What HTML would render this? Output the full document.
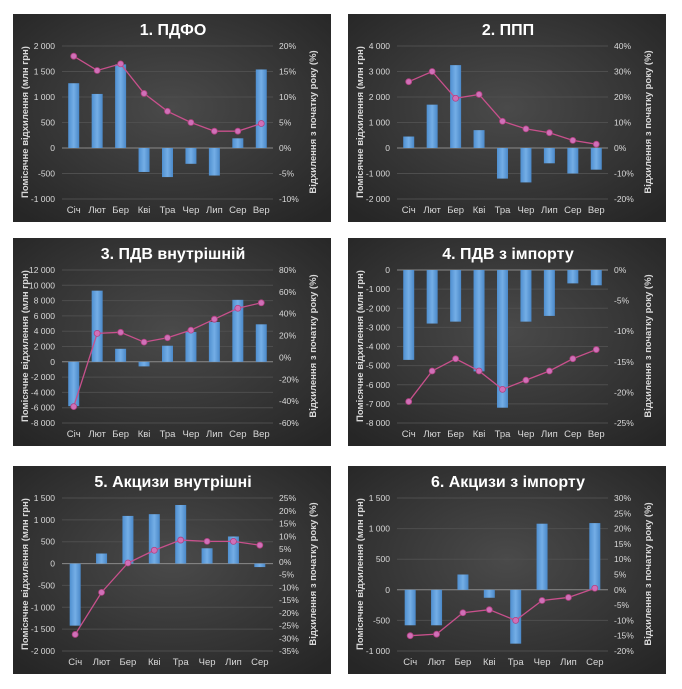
<!DOCTYPE html>
<html><head><meta charset="utf-8"><style>
html,body{margin:0;padding:0;background:#fff;width:682px;height:689px;overflow:hidden}
svg{display:block}
text{font-family:"Liberation Sans","DejaVu Sans",sans-serif;fill:#d9d9d9}
</style></head><body>
<svg id="s" width="682" height="689" xmlns="http://www.w3.org/2000/svg">
<defs>
<radialGradient id="bg" cx="50%" cy="45%" r="70%"><stop offset="0" stop-color="#4a4a4a"/><stop offset="1" stop-color="#262626"/></radialGradient>
<linearGradient id="bar" x1="0" x2="1"><stop offset="0" stop-color="#4f8fd0"/><stop offset="0.5" stop-color="#74aee6"/><stop offset="1" stop-color="#4a88c8"/></linearGradient>
</defs>
</svg>
<script>
var M=["Січ","Лют","Бер","Кві","Тра","Чер","Лип","Сер","Вер"];
var P=[
{x:13,y:14,t:"1. ПДФО",L:[-1000,2000,500],R:[-10,20,5],b:[1270,1060,1640,-470,-570,-310,-540,190,1540],l:[18,15.2,16.5,10.7,7.2,5,3.3,3.3,4.8]},
{x:348,y:14,t:"2. ППП",L:[-2000,4000,1000],R:[-20,40,10],b:[450,1700,3250,700,-1200,-1350,-600,-1000,-850],l:[26,30,19.5,21,10.5,7.5,6,3,1.5]},
{x:13,y:238,t:"3. ПДВ внутрішній",L:[-8000,12000,2000],R:[-60,80,20],b:[-5800,9300,1700,-600,2100,3900,5200,8100,4900],l:[-45,22,23,14,18,25,35,45,50]},
{x:348,y:238,t:"4. ПДВ з імпорту",L:[-8000,0,1000],R:[-25,0,5],b:[-4700,-2800,-2700,-5300,-7200,-2700,-2400,-700,-800],l:[-21.5,-16.5,-14.5,-16.5,-19.5,-18,-16.5,-14.5,-13]},
{x:13,y:466,t:"5. Акцизи внутрішні",L:[-2000,1500,500],R:[-35,25,5],b:[-1420,230,1090,1130,1340,350,620,-80],l:[-28.5,-12,-0.5,4.5,8.5,8,8,6.5]},
{x:348,y:466,t:"6. Акцизи з імпорту",L:[-1000,1500,500],R:[-20,30,5],b:[-580,-580,250,-130,-880,1080,0,1090],l:[-15,-14.5,-7.5,-6.5,-10,-3.5,-2.5,0.5]}
];
function fmt(v){var s=Math.abs(v)>=1000?(Math.abs(v)+"").replace(/(\d)(?=(\d{3})+$)/,"$1 "):Math.abs(v)+"";return (v<0?"-":"")+s;}
var h="";
P.forEach(function(p){
 var X=p.x,Y=p.y,W=318,H=208;
 h+='<rect x="'+X+'" y="'+Y+'" width="'+W+'" height="'+H+'" fill="url(#bg)"/>';
 h+='<text x="'+(X+160)+'" y="'+(Y+21)+'" text-anchor="middle" font-size="16" font-weight="bold" fill="#fff" style="fill:#fff">'+p.t+'</text>';
 var top=Y+32,bot=Y+185,px0=X+49,px1=X+260;
 function ly(v){return bot-(v-p.L[0])/(p.L[1]-p.L[0])*(bot-top);}
 function ry(v){return bot-(v-p.R[0])/(p.R[1]-p.R[0])*(bot-top);}
 for(var v=p.L[0];v<=p.L[1]+1e-9;v+=p.L[2]){var yy=ly(v);
  h+='<line x1="'+px0+'" x2="'+px1+'" y1="'+yy+'" y2="'+yy+'" stroke="'+(v==0?'#8a8a8a':'#4e4e4e')+'" stroke-width="1"/>';
  h+='<text x="'+(X+42)+'" y="'+(yy+3)+'" text-anchor="end" font-size="8.5">'+fmt(v)+'</text>';}
 for(var r=p.R[0];r<=p.R[1]+1e-9;r+=p.R[2]){var yy=ry(r);
  h+='<text x="'+(X+266)+'" y="'+(yy+3)+'" font-size="8.5">'+r+'%</text>';}
 h+='<text transform="translate('+(X+15)+','+(Y+108)+') rotate(-90)" text-anchor="middle" font-size="9.5" font-weight="bold">Помісячне відхилення (млн грн)</text>';
 h+='<text transform="translate('+(X+303)+','+(Y+108)+') rotate(-90)" text-anchor="middle" font-size="9.5" font-weight="bold">Відхилення з початку року (%)</text>';
 var n=p.b.length,cw=(px1-px0)/n,pts=[];
 for(var i=0;i<n;i++){var cx=px0+cw*(i+0.5),y0=ly(0),y1=ly(p.b[i]);
  if(p.b[i]!=0)h+='<rect x="'+(cx-5.5)+'" y="'+Math.min(y0,y1)+'" width="11" height="'+Math.abs(y1-y0)+'" fill="url(#bar)"/>';
  h+='<text x="'+cx+'" y="'+(Y+199)+'" text-anchor="middle" font-size="9.5">'+M[i]+'</text>';
  pts.push(cx+','+ry(p.l[i]));}
 h+='<polyline points="'+pts.join(' ')+'" fill="none" stroke="#c8508c" stroke-width="1.3"/>';
 pts.forEach(function(q){var a=q.split(',');h+='<circle cx="'+a[0]+'" cy="'+a[1]+'" r="3" fill="#d070b8" stroke="#b04080" stroke-width="0.8"/>';});
});
document.getElementById("s").insertAdjacentHTML("beforeend",h);
</script>
</body></html>
